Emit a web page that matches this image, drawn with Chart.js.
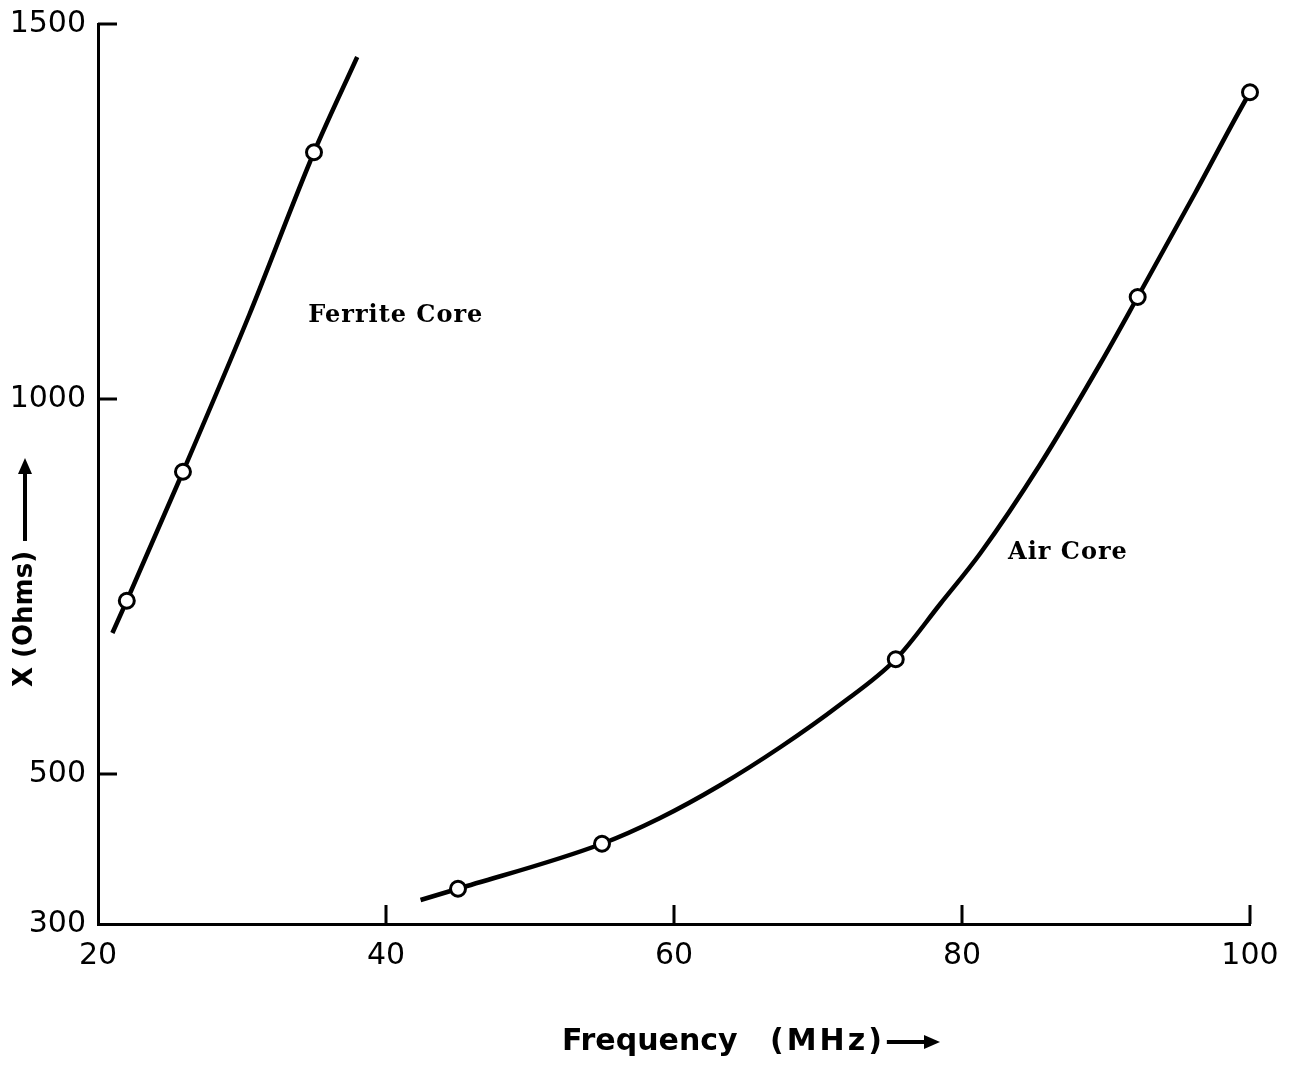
<!DOCTYPE html>
<html>
<head>
<meta charset="utf-8">
<script src="https://cdn.jsdelivr.net/npm/chart.js@4.4.1/dist/chart.umd.min.js"></script>
<style>
  html, body { margin: 0; padding: 0; background: #fff; }
  #wrap { width: 1302px; height: 1065px; }
</style>
</head>
<body>
<div id="wrap"><canvas id="reactance" width="1302" height="1065"></canvas></div>
<script>
const xTicks = [20, 40, 60, 80, 100];
const yTicks = [300, 500, 1000, 1500];

// measured points (open circles)
const ferriteFreq = [22, 25.9, 35];
const ferriteOhms = [731, 903, 1329];
const airFreq = [45, 55, 75.4, 92.2, 100];
const airOhms = [347, 407, 653, 1136, 1409];

// the hand drawn curves through them
const ferriteCurveFreq = [21, 22, 25.9, 30.5, 35, 38];
const ferriteCurveOhms = [688, 731, 903, 1112, 1329, 1456];
const airCurveFreq = [42.4, 45, 55, 59, 63.2, 67.4, 71.5, 75.4, 78.5, 81.3, 85.4, 89.6, 92.2, 96.2, 100, 101.4];
const airCurveOhms = [332, 347, 407, 441, 485, 536, 592, 653, 727, 795, 912, 1047, 1136, 1275, 1409, 1452];

const toXY = (xs, ys) => xs.map((x, i) => ({ x, y: ys[i] }));

function arrow(ctx, x1, y1, x2, y2) {
  const a = Math.atan2(y2 - y1, x2 - x1);
  const c = Math.cos(a);
  const s = Math.sin(a);
  ctx.beginPath();
  ctx.moveTo(x1, y1);
  ctx.lineTo(x2 - 12 * c, y2 - 12 * s);
  ctx.stroke();
  ctx.beginPath();
  ctx.moveTo(x2, y2);
  ctx.lineTo(x2 - 16 * c + 7 * s, y2 - 16 * s - 7 * c);
  ctx.lineTo(x2 - 16 * c - 7 * s, y2 - 16 * s + 7 * c);
  ctx.closePath();
  ctx.fill();
}

const paperPlugin = {
  id: "paper",
  afterDraw(chart) {
    const { ctx, chartArea, scales } = chart;
    const x = scales.x;
    const y = scales.y;
    ctx.save();
    ctx.strokeStyle = "#000";
    ctx.fillStyle = "#000";
    ctx.lineWidth = 3;

    // tick marks point inward
    ctx.beginPath();
    xTicks.slice(1).forEach((v) => {
      const px = x.getPixelForValue(v);
      ctx.moveTo(px, chartArea.bottom);
      ctx.lineTo(px, chartArea.bottom - 19);
    });
    yTicks.slice(1).forEach((v) => {
      const py = y.getPixelForValue(v);
      ctx.moveTo(chartArea.left, py);
      ctx.lineTo(chartArea.left + 19, py);
    });
    ctx.stroke();

    // curve labels
    ctx.textBaseline = "middle";
    ctx.textAlign = "left";
    ctx.font = "bold 24px 'DejaVu Serif', serif";
    ctx.letterSpacing = "1px";
    ctx.fillText("Ferrite Core", x.getPixelForValue(34.6), y.getPixelForValue(1111));
    ctx.fillText("Air Core", x.getPixelForValue(83.2), y.getPixelForValue(795));

    // axis titles
    ctx.lineWidth = 4;
    ctx.font = "bold 30px 'DejaVu Sans', sans-serif";
    ctx.letterSpacing = "0px";
    ctx.fillText("Frequency", 562, 1042);
    ctx.letterSpacing = "3px";
    const w = ctx.measureText("(MHz)").width;
    ctx.fillText("(MHz)", 770, 1042);
    arrow(ctx, 770 + w + 2, 1042, 940, 1042);

    ctx.translate(25, 687);
    ctx.rotate(-Math.PI / 2);
    ctx.font = "bold 26px 'DejaVu Sans', sans-serif";
    ctx.letterSpacing = "0px";
    const wy = ctx.measureText("X (Ohms)").width;
    ctx.fillText("X (Ohms)", 0, 0);
    arrow(ctx, wy + 10, 0, 229, 0);
    ctx.restore();
  },
};

const markerStyle = {
  pointRadius: 7.5,
  pointBackgroundColor: "#fff",
  pointBorderColor: "#000",
  pointBorderWidth: 3,
  clip: false,
  order: 0,
};

const curveStyle = {
  showLine: true,
  cubicInterpolationMode: "monotone",
  borderColor: "#000",
  borderWidth: 4.5,
  pointRadius: 0,
  clip: false,
  order: 1,
};

new Chart(document.getElementById("reactance"), {
  type: "scatter",
  data: {
    datasets: [
      { ...markerStyle, data: toXY(ferriteFreq, ferriteOhms) },
      { ...markerStyle, data: toXY(airFreq, airOhms) },
      { ...curveStyle, data: toXY(ferriteCurveFreq, ferriteCurveOhms) },
      { ...curveStyle, data: toXY(airCurveFreq, airCurveOhms) },
    ],
  },
  options: {
    responsive: false,
    animation: false,
    devicePixelRatio: 1,
    layout: { padding: { top: 12, right: 52, left: 0, bottom: 0 } },
    plugins: {
      legend: { display: false },
      tooltip: { enabled: false },
    },
    scales: {
      x: {
        type: "linear",
        min: 20,
        max: 100,
        afterBuildTicks: (s) => { s.ticks = xTicks.map((value) => ({ value })); },
        afterFit: (s) => { s.height = 141; },
        grid: { display: true, drawOnChartArea: false, drawTicks: false },
        border: { display: true, color: "#000", width: 3 },
        ticks: {
          color: "#000",
          font: { family: "'DejaVu Sans', sans-serif", size: 30 },
          padding: 14,
          maxRotation: 0,
          callback: (v) => String(v),
        },
      },
      y: {
        type: "linear",
        min: 300,
        max: 1500,
        afterBuildTicks: (s) => { s.ticks = yTicks.map((value) => ({ value })); },
        afterFit: (s) => { s.width = 98; },
        grid: { display: true, drawOnChartArea: false, drawTicks: false },
        border: { display: true, color: "#000", width: 3 },
        ticks: {
          color: "#000",
          font: { family: "'DejaVu Sans', sans-serif", size: 30, lineHeight: 0.8 },
          padding: 12,
          callback: (v) => String(v),
        },
      },
    },
  },
  plugins: [paperPlugin],
});
</script>
</body>
</html>
